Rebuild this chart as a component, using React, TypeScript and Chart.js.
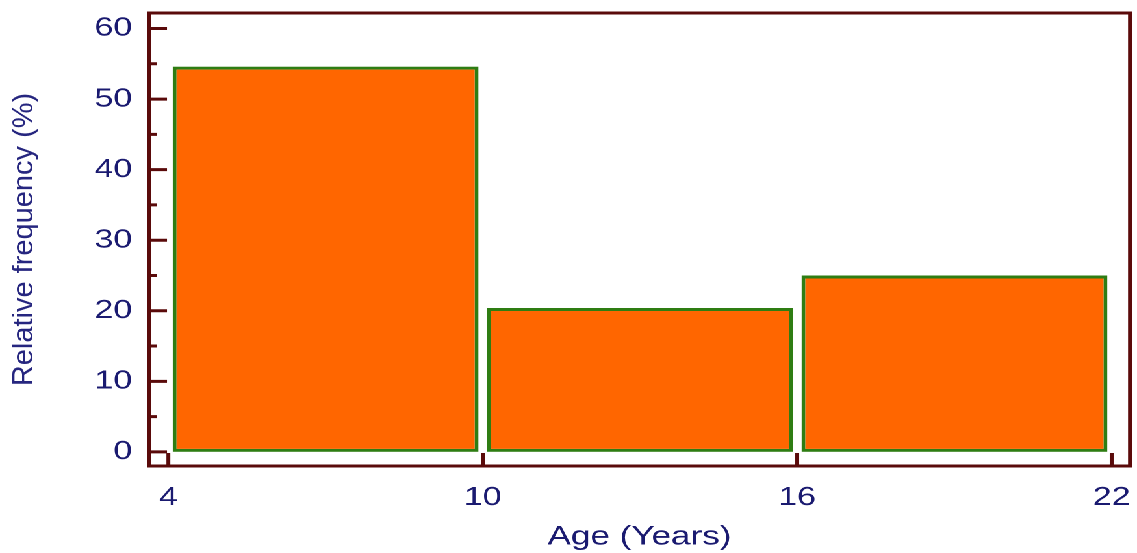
import { useEffect, useRef } from "react";
import { Chart, registerables } from "chart.js";

Chart.register(...registerables);

// ---- data ----
const BIN_CENTERS = [7, 13, 19];
const FREQUENCIES = [54.6, 20.4, 25.0];
const X_TICKS = [4, 10, 16, 22];
const Y_TICKS = [0, 10, 20, 30, 40, 50, 60];
const Y_MINOR_TICKS = [5, 15, 25, 35, 45, 55];
const X_TITLE = "Age (Years)";
const Y_TITLE = "Relative frequency (%)";

// ---- style ----
const CANVAS_W = 875;
const CANVAS_H = 553;
const STRETCH = 1137 / CANVAS_W;
const FONT = "'Liberation Sans', Arial, sans-serif";
const TEXT = "#1a1a70";
const FRAME = "#5a0a0a";
const FILL = "#ff6600";
const EDGE = "#2e7d13";

const framePlugin = {
  id: "frameAndTicks",
  afterDatasetsDraw(chart: any) {
    const { ctx, chartArea: a, scales } = chart;
    const x = scales.x;
    const y = scales.y;
    ctx.save();
    ctx.strokeStyle = FRAME;
    ctx.lineWidth = 3;
    ctx.lineCap = "butt";
    ctx.strokeRect(a.left, a.top, a.right - a.left, a.bottom - a.top);
    ctx.beginPath();
    Y_TICKS.forEach((v) => {
      const p = y.getPixelForValue(v);
      ctx.moveTo(a.left, p);
      ctx.lineTo(a.left + 18 / STRETCH, p);
    });
    Y_MINOR_TICKS.forEach((v) => {
      const p = y.getPixelForValue(v);
      ctx.moveTo(a.left, p);
      ctx.lineTo(a.left + 8 / STRETCH, p);
    });
    X_TICKS.forEach((v) => {
      const p = x.getPixelForValue(v);
      ctx.moveTo(p, a.bottom);
      ctx.lineTo(p, a.bottom - 13);
    });
    ctx.stroke();
    ctx.restore();

    // rotated y-axis title, compensated for the horizontal stretch
    ctx.save();
    ctx.translate(19, (a.top + a.bottom) / 2);
    ctx.rotate(-Math.PI / 2);
    ctx.scale(1, 1 / STRETCH);
    ctx.font = `29px ${FONT}`;
    ctx.fillStyle = "#26267f";
    ctx.textAlign = "center";
    ctx.textBaseline = "middle";
    ctx.fillText(Y_TITLE, 0, 0);
    ctx.restore();
  },
};

export default function App() {
  const ref = useRef<HTMLCanvasElement | null>(null);

  useEffect(() => {
    document.body.style.margin = "0";
    const canvas = ref.current;
    if (!canvas) return;
    const chart = new Chart(canvas, {
      type: "bar",
      data: {
        datasets: [
          {
            data: BIN_CENTERS.map((c, i) => ({ x: c, y: FREQUENCIES[i] })),
            backgroundColor: FILL,
            borderColor: EDGE,
            borderWidth: 3,
            borderSkipped: false,
            barPercentage: 0.973,
            categoryPercentage: 1,
          },
        ],
      },
      options: {
        responsive: false,
        animation: false,
        devicePixelRatio: 2,
        layout: { padding: { top: 13, right: 5.4, left: 0, bottom: 0 } },
        plugins: { legend: { display: false }, tooltip: { enabled: false } },
        scales: {
          x: {
            type: "linear",
            offset: false,
            min: 3.63,
            max: 22.35,
            grid: { display: false, drawTicks: false, offset: false },
            border: { display: false },
            afterBuildTicks: (s: any) => {
              s.ticks = X_TICKS.map((v) => ({ value: v }));
            },
            afterFit: (s: any) => {
              s.height = 87;
              s.paddingLeft = 0;
              s.paddingRight = 0;
            },
            ticks: {
              color: TEXT,
              font: { family: FONT, size: 26 },
              padding: 16,
              maxRotation: 0,
              autoSkip: false,
            },
            title: {
              display: true,
              text: X_TITLE,
              color: TEXT,
              font: { family: FONT, size: 27 },
              padding: { top: 0, bottom: 0 },
            },
          },
          y: {
            type: "linear",
            min: -2,
            max: 62.2,
            grid: { display: false, drawTicks: false },
            border: { display: false },
            afterBuildTicks: (s: any) => {
              s.ticks = Y_TICKS.map((v) => ({ value: v }));
            },
            afterFit: (s: any) => {
              s.width = 149 / STRETCH;
              s.paddingTop = 0;
              s.paddingBottom = 0;
            },
            ticks: {
              color: TEXT,
              font: { family: FONT, size: 26 },
              padding: 13,
              autoSkip: false,
            },
          },
        },
      },
      plugins: [framePlugin],
    });
    return () => chart.destroy();
  }, []);

  return (
    <div
      style={{
        position: "absolute",
        left: 0,
        top: 0,
        width: CANVAS_W,
        height: CANVAS_H,
        transform: `scaleX(${STRETCH})`,
        transformOrigin: "0 0",
        background: "#fff",
      }}
    >
      <canvas
        ref={ref}
        width={CANVAS_W}
        height={CANVAS_H}
        style={{ width: `${CANVAS_W}px`, height: `${CANVAS_H}px`, display: "block" }}
      />
    </div>
  );
}
